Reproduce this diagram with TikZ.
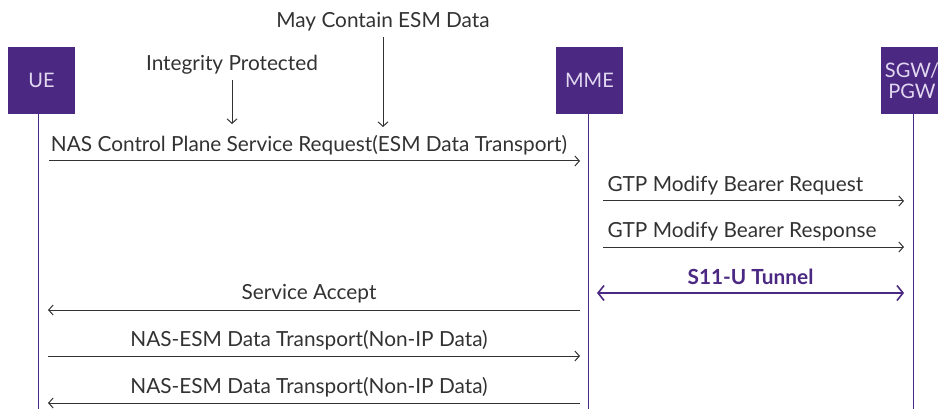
\documentclass[tikz,border=0pt]{standalone}
\usepackage{fontspec}
\setmainfont{Lato}
\usetikzlibrary{arrows.meta,positioning}
\definecolor{pourpre}{RGB}{75,40,130}
\definecolor{lavande}{RGB}{225,215,240}
\definecolor{texte}{RGB}{50,50,50}

\begin{document}
\begin{tikzpicture}[x=1pt,y=-1pt]
        % Styles
        \tikzstyle{entite}=[fill=pourpre, text=lavande, minimum width=67pt, minimum height=67pt, inner sep=0pt, align=center, font=\fontsize{20}{21}\selectfont]
        \tikzstyle{vie}=[draw=pourpre, line width=1pt]
        \tikzstyle{msg}=[draw=texte, line width=1pt, -{Straight Barb[length=4.5pt,width=10pt]}]
        \tikzstyle{etiq}=[text=texte, inner sep=0pt, text depth=0pt, font=\fontsize{20.8}{22}\selectfont]
        \tikzstyle{tunnel}=[draw=pourpre, line width=1.6pt, {Straight Barb[length=6pt,width=15pt]}-{Straight Barb[length=6pt,width=15pt]}]

        \useasboundingbox (0,0) rectangle (938,409);
        \clip (0,0) rectangle (938,409);

        % Entités
        \node[entite] (ue) at (41.5,80.5) {UE};
        \node[entite] (mme) at (589.5,80.5) {MME};
        \node[entite, minimum width=63pt] (gw) at (912,80.5) {SGW/\\PGW};

        % Lignes de vie
        \coordinate (ue-haut) at (38,114);
        \coordinate (ue-bas) at (38,409);
        \coordinate (mme-haut) at (588,114);
        \coordinate (mme-bas) at (588,409);
        \coordinate (gw-haut) at (913,114);
        \coordinate (gw-bas) at (913,409);
        \draw[vie] (ue-haut) -- (ue-bas);
        \draw[vie] (mme-haut) -- (mme-bas);
        \draw[vie] (gw-haut) -- (gw-bas);

        % Annotations
        \node[etiq, anchor=base] (integ) at (232,71) {Integrity Protected};
        \node[etiq, anchor=base] (esm) at (383,28) {May Contain ESM Data};
        \coordinate (integ-fin) at (232,124);
        \coordinate (esm-fin) at (383,127);
        \draw[msg] (integ.south) ++(0,9) -- (integ-fin);
        \draw[msg] (esm.south) ++(0,9) -- (esm-fin);

        % Messages
        \coordinate (ue1) at (49,161);
        \coordinate (mme1) at (580,161);
        \draw[msg] (ue1) -- node[etiq, above=8.5pt, xshift=-5.5pt] {NAS Control Plane Service Request(ESM Data Transport)} (mme1);

        \coordinate (mme2) at (603,201);
        \coordinate (gw2) at (904,201);
        \draw[msg] (mme2) -- node[etiq, pos=0, above right=9pt and 4pt] {GTP Modify Bearer Request} (gw2);

        \coordinate (mme3) at (603,247);
        \coordinate (gw3) at (904,247);
        \draw[msg] (mme3) -- node[etiq, pos=0, above right=9pt and 4pt] {GTP Modify Bearer Response} (gw3);

        \coordinate (mme4) at (597,293);
        \coordinate (gw4) at (904,293);
        \draw[tunnel] (mme4) -- node[etiq, text=pourpre, above=8pt, font=\fontsize{20.8}{22}\selectfont\bfseries] {S11-U Tunnel} (gw4);

        \coordinate (mme5) at (580,310);
        \coordinate (ue5) at (48,310);
        \draw[msg] (mme5) -- node[etiq, above=10pt, xshift=-5pt] {Service Accept} (ue5);

        \coordinate (ue6) at (48,356);
        \coordinate (mme6) at (580,356);
        \draw[msg] (ue6) -- node[etiq, above=9.5pt, xshift=-5pt] {NAS-ESM Data Transport(Non-IP Data)} (mme6);

        \coordinate (mme7) at (580,403);
        \coordinate (ue7) at (48,403);
        \draw[msg] (mme7) -- node[etiq, above=9.5pt, xshift=-5pt] {NAS-ESM Data Transport(Non-IP Data)} (ue7);
    \end{tikzpicture}
\end{document}
